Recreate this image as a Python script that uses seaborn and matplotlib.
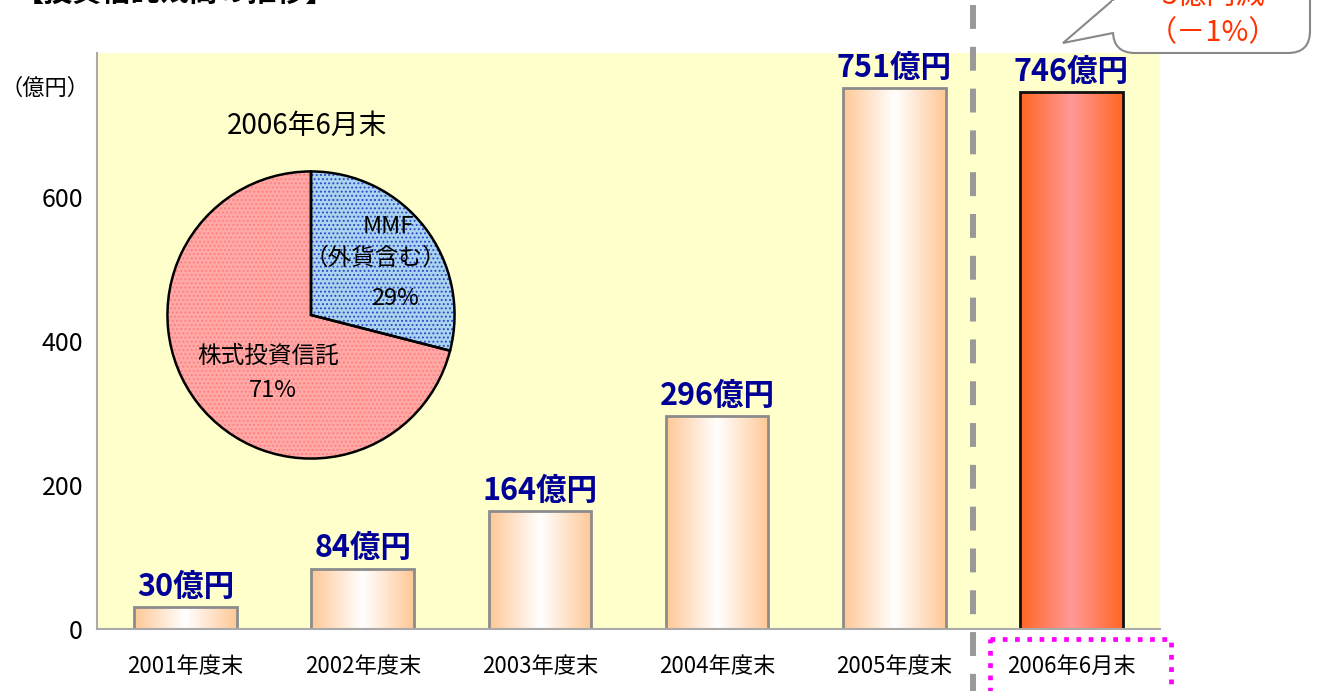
import numpy as np
import pandas as pd
import matplotlib
matplotlib.use("Agg")
import matplotlib.pyplot as plt
import seaborn as sns
from matplotlib.colors import LinearSegmentedColormap
from matplotlib.patches import Rectangle, FancyBboxPatch, PathPatch
from matplotlib.path import Path

# ---- data ----
periods = ["2001年度末", "2002年度末", "2003年度末", "2004年度末", "2005年度末", "2006年6月末"]
balances = [30, 84, 164, 296, 751, 746]
y_ticks = [0, 200, 400, 600]

pie_labels = ["MMF\n（外貨含む）", "株式投資信託"]
pie_shares = [29, 71]
pie_title = "2006年6月末"

callout_lines = ["5億円減", "（－1%）"]

sns.set_style("white")
plt.rcParams["font.family"] = ["Noto Sans CJK JP", "DejaVu Sans"]
plt.rcParams["text.color"] = "black"
plt.rcParams["xtick.color"] = "black"
plt.rcParams["ytick.color"] = "black"
plt.rcParams["hatch.linewidth"] = 0.9

W, H = 1318, 691
fig = plt.figure(figsize=(W / 100, H / 100), dpi=100)
ax = fig.add_axes([97 / W, 1 - 629 / H, (1160 - 97) / W, (629 - 53) / H])

df = pd.DataFrame({"period": periods, "balance": balances})
sns.barplot(data=df, x="period", y="balance", order=periods, width=0.58,
            color="#FFCC99", ax=ax)

ax.set_facecolor("#FFFFCC")
ax.set_xlim(-0.5, len(periods) - 0.5)
ax.set_ylim(0, 800)
ax.set_yticks(y_ticks)
ax.set_xlabel("")
ax.set_ylabel("")
for s in ["top", "right"]:
    ax.spines[s].set_visible(False)
for s in ["left", "bottom"]:
    ax.spines[s].set_color("#AAAAAA")
    ax.spines[s].set_linewidth(1.5)
ax.tick_params(axis="y", length=0, pad=10, labelsize=18)
ax.tick_params(axis="x", length=0, pad=19, labelsize=16)

# gradient fill on the bars
normal_cmap = LinearSegmentedColormap.from_list("peach", ["#FFC896", "#FFFFFF", "#FFC896"])
last_cmap = LinearSegmentedColormap.from_list("red", ["#FF6622", "#FF9999", "#FF6622"])
grad = np.linspace(0, 1, 256).reshape(1, -1)
for i, bar in enumerate(ax.patches):
    x0, w, h = bar.get_x(), bar.get_width(), bar.get_height()
    last = i == len(ax.patches) - 1
    im = ax.imshow(grad, cmap=last_cmap if last else normal_cmap, aspect="auto",
                   extent=[x0, x0 + w, 0, h], zorder=bar.get_zorder(), interpolation="bicubic")
    im.set_clip_path(bar)
    bar.set_facecolor("none")
    bar.set_edgecolor("#111111" if last else "#8C8C8C")
    bar.set_linewidth(2)
    bar.set_zorder(im.get_zorder() + 0.1)
    ax.annotate(f"{balances[i]}億円", (i, h), xytext=(0, 3), textcoords="offset points",
                ha="center", va="bottom", fontsize=22, fontweight="bold", color="#000099")
ax.set_xlim(-0.5, len(periods) - 0.5)
ax.set_ylim(0, 800)

# pie inset
pax = fig.add_axes([166 / W, 1 - 460 / H, 290 / W, 290 / H])
pie_face = ["#A9D6EE", "#FFA9A6"]
pie_dots = ["#3344CC", "#FF7F7F"]
wedges, _ = pax.pie(pie_shares, startangle=90, counterclock=False, colors=pie_face,
                    wedgeprops=dict(linewidth=0))
for wd, dc in zip(wedges, pie_dots):
    wd.set_hatch("....")
    wd.set_edgecolor(dc)
    wd.set_linewidth(0)
outline, _ = pax.pie(pie_shares, startangle=90, counterclock=False,
                     wedgeprops=dict(facecolor="none", edgecolor="black", linewidth=1.8))
pax.set_xlim(-1.01, 1.01)
pax.set_ylim(-1.01, 1.01)
pax.set_aspect("equal")
pax.axis("off")

# overlay in pixel coordinates for annotations
ov = fig.add_axes([0, 0, 1, 1], facecolor="none")
ov.set_xlim(0, W)
ov.set_ylim(H, 0)
ov.axis("off")

ov.text(45, 88, "（億円）", ha="center", va="center", fontsize=16)
ov.text(307, 126, pie_title, ha="center", va="center", fontsize=20)
ov.text(388, 226, "MMF", ha="center", va="center", fontsize=17)
ov.text(375, 258, "（外貨含む）", ha="center", va="center", fontsize=17)
ov.text(395, 298, f"{pie_shares[0]}%", ha="center", va="center", fontsize=17)
ov.text(268, 356, "株式投資信託", ha="center", va="center", fontsize=17)
ov.text(273, 390, f"{pie_shares[1]}%", ha="center", va="center", fontsize=17)

# title, mostly cut off at the top
ov.text(15, 7, "【投資信託残高の推移】", ha="left", va="bottom", fontsize=21, fontweight="bold")

# dashed separator
ov.plot([973, 973], [5, H], color="#999999", linewidth=4.3,
        linestyle=(0, (4, 3)), solid_capstyle="butt", dash_capstyle="butt")

# magenta dotted box around last label
ov.add_patch(Rectangle((990, 639), 181, 120, fill=False, edgecolor="#FF00FF",
                       linewidth=3.4, linestyle=(0, (1, 1.6))))

# callout
box = FancyBboxPatch((1113, -60), 1310 - 1113, 113, boxstyle="round,pad=0,rounding_size=22",
                     facecolor="white", edgecolor="#888888", linewidth=1.5, zorder=5)
ov.add_patch(box)
tail = Path([(1113, 0), (1063, 43), (1113, 33)], [Path.MOVETO, Path.LINETO, Path.LINETO])
ov.add_patch(PathPatch(tail, facecolor="white", edgecolor="#888888", linewidth=1.5, zorder=6))
ov.add_patch(Rectangle((1112, 1), 4, 31, facecolor="white", edgecolor="none", zorder=7))
ov.text(1213, -4, callout_lines[0], ha="center", va="center", fontsize=21,
        color="#FF3300", zorder=8)
ov.text(1213, 33, callout_lines[1], ha="center", va="center", fontsize=21,
        color="#FF3300", zorder=8)

fig.savefig("out.png", dpi=100)
